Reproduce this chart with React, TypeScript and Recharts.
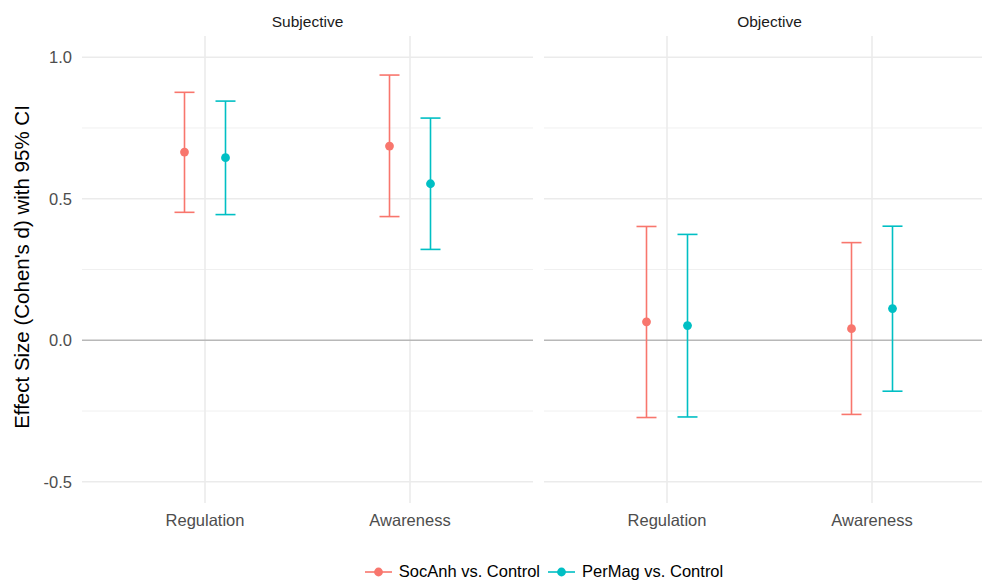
import { ScatterChart, Scatter, XAxis, YAxis, ErrorBar, ReferenceLine } from 'recharts'

// categories and facets
const categories = ['Regulation', 'Awareness']
const facets = ['Subjective', 'Objective']
const seriesNames = ['SocAnh vs. Control', 'PerMag vs. Control']
const COLORS = ['#F8766D', '#00BFC4']

// Subjective panel: Cohen's d and 95% CI
const subjSocAnhD = [0.665, 0.686]
const subjSocAnhLo = [0.452, 0.437]
const subjSocAnhHi = [0.876, 0.937]
const subjPerMagD = [0.645, 0.553]
const subjPerMagLo = [0.444, 0.321]
const subjPerMagHi = [0.845, 0.785]

// Objective panel
const objSocAnhD = [0.065, 0.041]
const objSocAnhLo = [-0.273, -0.262]
const objSocAnhHi = [0.402, 0.345]
const objPerMagD = [0.052, 0.112]
const objPerMagLo = [-0.271, -0.18]
const objPerMagHi = [0.374, 0.403]

const yTicks = [-0.5, 0, 0.5, 1.0]
const yMinor = [-0.25, 0.25, 0.75]

const FONT = '"Liberation Sans", Arial, Helvetica, sans-serif'
const DODGE = [-0.1, 0.1]

interface P { x: number; d: number; err: [number, number] }

function rows(si: number, d: number[], lo: number[], hi: number[]): P[] {
  return categories.map((_, i) => ({ x: i + 1 + DODGE[si], d: d[i], err: [d[i] - lo[i], hi[i] - d[i]] }))
}

const panels = [
  [rows(0, subjSocAnhD, subjSocAnhLo, subjSocAnhHi), rows(1, subjPerMagD, subjPerMagLo, subjPerMagHi)],
  [rows(0, objSocAnhD, objSocAnhLo, objSocAnhHi), rows(1, objPerMagD, objPerMagLo, objPerMagHi)],
]

const Dot = (props: { cx?: number; cy?: number; fill?: string }) =>
  <circle cx={props.cx} cy={props.cy} r={4.4} fill={props.fill} />

function Panel({ idx, width, showY }: { idx: number; width: number; showY: boolean }) {
  return (
    <ScatterChart width={width} height={583} margin={{ top: 36, right: 0, bottom: 50, left: 0 }}>
      <XAxis type="number" dataKey="x" domain={[0.4, 2.6]} ticks={[1, 2]} allowDataOverflow
        tickFormatter={(v: number) => categories[v - 1]} axisLine={false} tickLine={false} tickSize={0} tickMargin={11}
        height={30} tick={{ fill: '#4D4D4D', fontSize: 16.5, fontFamily: FONT }} />
      <YAxis type="number" dataKey="d" domain={[-0.575, 1.075]} ticks={yTicks} allowDataOverflow hide={!showY}
        width={82} axisLine={false} tickLine={false} tickSize={0} tickMargin={10}
        tickFormatter={(v: number) => v.toFixed(1)} tick={{ fill: '#4D4D4D', fontSize: 16.5, fontFamily: FONT }} />
      {yMinor.map(v => <ReferenceLine key={'m' + v} y={v} stroke="#F0F0F0" strokeWidth={1} />)}
      {yTicks.filter(v => v !== 0).map(v => <ReferenceLine key={'y' + v} y={v} stroke="#EBEBEB" strokeWidth={1.6} />)}
      {[1, 2].map(v => <ReferenceLine key={'x' + v} x={v} stroke="#EBEBEB" strokeWidth={1.6} />)}
      <ReferenceLine y={0} stroke="#B8B8B8" strokeWidth={1.6} />
      {panels[idx].map((data, si) => (
        <Scatter key={si} name={seriesNames[si]} data={data} fill={COLORS[si]} shape={<Dot />} isAnimationActive={false}>
          <ErrorBar dataKey="err" direction="y" width={10} stroke={COLORS[si]} strokeWidth={1.6} isAnimationActive={false} />
        </Scatter>
      ))}
    </ScatterChart>
  )
}

function LegendKey({ color }: { color: string }) {
  return (
    <svg width={27} height={12} style={{ marginRight: 7 }}>
      <line x1={0} y1={6} x2={27} y2={6} stroke={color} strokeWidth={1.6} />
      <circle cx={13.5} cy={6} r={4.4} fill={color} />
    </svg>
  )
}

export default function App() {
  return (
    <div style={{ position: 'absolute', left: 0, top: 0, width: 982, height: 583, overflow: 'hidden', background: '#fff', fontFamily: FONT }}>
      <div style={{ position: 'absolute', left: 0, top: 0 }}>
        <Panel idx={0} width={533} showY />
      </div>
      <div style={{ position: 'absolute', left: 544, top: 0 }}>
        <Panel idx={1} width={451} showY={false} />
      </div>
      {facets.map((f, i) => (
        <div key={f} style={{ position: 'absolute', top: 13, left: i === 0 ? 82 : 544, width: 451, textAlign: 'center', fontSize: 15.5, color: '#1A1A1A' }}>{f}</div>
      ))}
      <div style={{ position: 'absolute', left: 22, top: 267, transform: 'translate(-50%, -50%) rotate(-90deg)', whiteSpace: 'nowrap', fontSize: 20.5, color: '#000' }}>
        Effect Size (Cohen's d) with 95% CI
      </div>
      <div style={{ position: 'absolute', left: 0, width: 1088, top: 562, display: 'flex', justifyContent: 'center', alignItems: 'center', fontSize: 16.5, color: '#000' }}>
        {seriesNames.map((s, i) => (
          <div key={s} style={{ display: 'flex', alignItems: 'center', marginRight: i === 0 ? 8 : 0 }}>
            <LegendKey color={COLORS[i]} />
            <span>{s}</span>
          </div>
        ))}
      </div>
    </div>
  )
}
